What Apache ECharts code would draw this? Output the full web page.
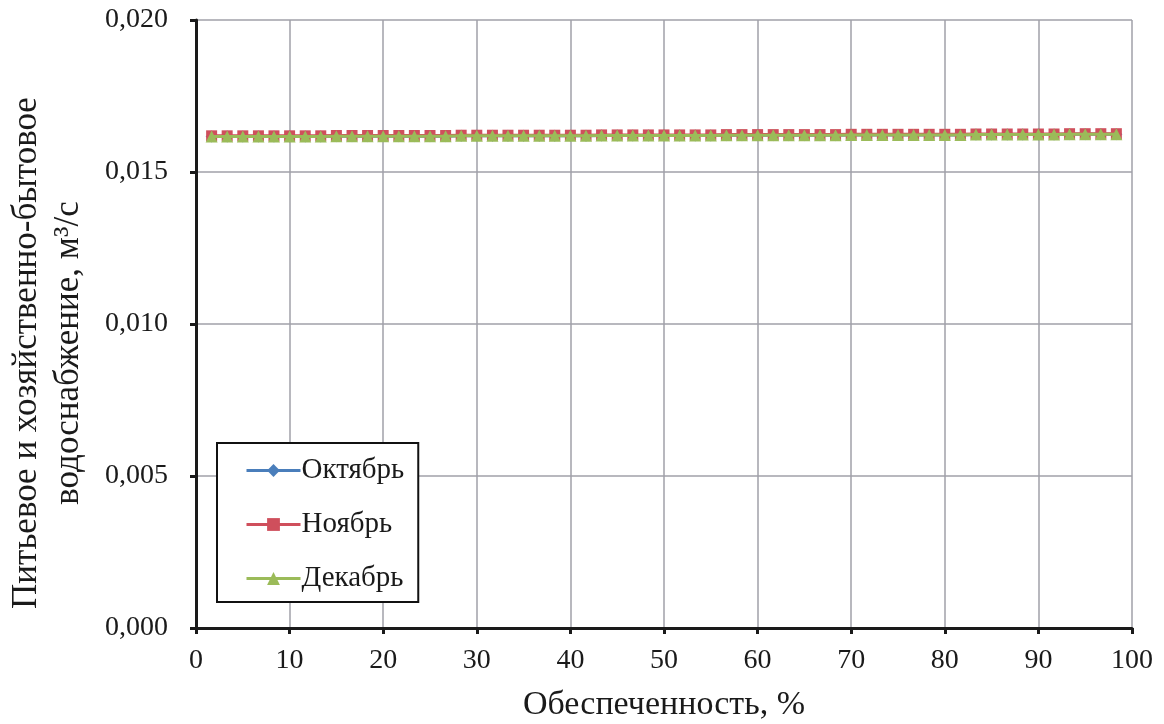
<!DOCTYPE html>
<html>
<head>
<meta charset="utf-8">
<script src="https://cdn.jsdelivr.net/npm/echarts@6/dist/echarts.min.js"></script>
<style>html,body{margin:0;padding:0;background:#fff}#c{width:1164px;height:724px}</style>
</head>
<body>
<div id="c"></div>
<script>
// Exceedance probability, %
const probability = [1.67, 3.33, 5.00, 6.67, 8.33, 10.00, 11.67, 13.33, 15.00, 16.67,
  18.33, 20.00, 21.67, 23.33, 25.00, 26.67, 28.33, 30.00, 31.67, 33.33,
  35.00, 36.67, 38.33, 40.00, 41.67, 43.33, 45.00, 46.67, 48.33, 50.00,
  51.67, 53.33, 55.00, 56.67, 58.33, 60.00, 61.67, 63.33, 65.00, 66.67,
  68.33, 70.00, 71.67, 73.33, 75.00, 76.67, 78.33, 80.00, 81.67, 83.33,
  85.00, 86.67, 88.33, 90.00, 91.67, 93.33, 95.00, 96.67, 98.33];

const october = [0.01617, 0.01617, 0.01617, 0.01617, 0.01617, 0.01617, 0.01617, 0.01617, 0.01618, 0.01618,
  0.01618, 0.01618, 0.01618, 0.01618, 0.01618, 0.01618, 0.01619, 0.01619, 0.01619, 0.01619,
  0.01619, 0.01619, 0.01619, 0.01619, 0.01619, 0.01620, 0.01620, 0.01620, 0.01620, 0.01620,
  0.01620, 0.01620, 0.01620, 0.01621, 0.01621, 0.01621, 0.01621, 0.01621, 0.01621, 0.01621,
  0.01621, 0.01622, 0.01622, 0.01622, 0.01622, 0.01622, 0.01622, 0.01622, 0.01622, 0.01623,
  0.01623, 0.01623, 0.01623, 0.01623, 0.01623, 0.01624, 0.01624, 0.01624, 0.01624];

const november = [0.01619, 0.01619, 0.01619, 0.01619, 0.01619, 0.01619, 0.01619, 0.01619, 0.01620, 0.01620,
  0.01620, 0.01620, 0.01620, 0.01620, 0.01620, 0.01620, 0.01621, 0.01621, 0.01621, 0.01621,
  0.01621, 0.01621, 0.01621, 0.01621, 0.01621, 0.01622, 0.01622, 0.01622, 0.01622, 0.01622,
  0.01622, 0.01622, 0.01622, 0.01623, 0.01623, 0.01623, 0.01623, 0.01623, 0.01623, 0.01623,
  0.01623, 0.01624, 0.01624, 0.01624, 0.01624, 0.01624, 0.01624, 0.01624, 0.01624, 0.01625,
  0.01625, 0.01625, 0.01625, 0.01625, 0.01625, 0.01626, 0.01626, 0.01626, 0.01626];

const december = [0.01617, 0.01617, 0.01617, 0.01617, 0.01617, 0.01617, 0.01617, 0.01617, 0.01618, 0.01618,
  0.01618, 0.01618, 0.01618, 0.01618, 0.01618, 0.01618, 0.01619, 0.01619, 0.01619, 0.01619,
  0.01619, 0.01619, 0.01619, 0.01619, 0.01619, 0.01620, 0.01620, 0.01620, 0.01620, 0.01620,
  0.01620, 0.01620, 0.01620, 0.01621, 0.01621, 0.01621, 0.01621, 0.01621, 0.01621, 0.01621,
  0.01621, 0.01622, 0.01622, 0.01622, 0.01622, 0.01622, 0.01622, 0.01622, 0.01622, 0.01623,
  0.01623, 0.01623, 0.01623, 0.01623, 0.01623, 0.01624, 0.01624, 0.01624, 0.01624];

const seriesNames = ['Октябрь', 'Ноябрь', 'Декабрь'];
const xTitle = 'Обеспеченность, %';
const yTitle = 'Питьевое и хозяйственно-бытовое\nводоснабжение, м³/с';

const FONT = '"Liberation Serif", "Times New Roman", serif';
const pairs = ys => probability.map((x, i) => [x, ys[i]]);

const chart = echarts.init(document.getElementById('c'), null, {renderer: 'canvas'});
chart.setOption({
  animation: false,
  backgroundColor: '#ffffff',
  textStyle: {fontFamily: FONT, color: '#1a1a1a'},
  grid: {left: 196, right: 32, top: 20, bottom: 96, containLabel: false, outerBoundsMode: 'none'},
  legend: {
    orient: 'vertical',
    left: 217, top: 443,
    padding: [12, 14, 8, 28],
    backgroundColor: '#ffffff',
    borderColor: '#111',
    borderWidth: 2,
    borderRadius: 0,
    itemWidth: 54,
    itemHeight: 16,
    itemGap: 23,
    lineStyle: {width: 3},
    textStyle: {fontFamily: FONT, fontSize: 29, lineHeight: 31, color: '#1a1a1a', padding: [0, 0, 0, -4]},
    data: seriesNames
  },
  xAxis: {
    type: 'value', min: 0, max: 100, interval: 10,
    name: xTitle, nameLocation: 'middle', nameGap: 60,
    nameTextStyle: {fontFamily: FONT, fontSize: 34, color: '#1a1a1a'},
    axisLine: {show: true, onZero: false, lineStyle: {color: '#1a1a1a', width: 3}},
    axisTick: {show: true, length: 6, lineStyle: {color: '#1a1a1a', width: 3}},
    axisLabel: {fontFamily: FONT, fontSize: 28, color: '#1a1a1a', margin: 19},
    splitLine: {show: true, lineStyle: {color: '#a0a0a8', width: 1.5}}
  },
  yAxis: {
    type: 'value', min: 0, max: 0.02, interval: 0.005,
    name: yTitle, nameLocation: 'middle', nameGap: 106, nameRotate: 90,
    nameTextStyle: {fontFamily: FONT, fontSize: 35, lineHeight: 42, color: '#1a1a1a', align: 'center',
      padding: [0, 58, 0, 0]},
    axisLine: {show: true, lineStyle: {color: '#1a1a1a', width: 3}},
    axisTick: {show: true, length: 6, lineStyle: {color: '#1a1a1a', width: 3}},
    axisLabel: {fontFamily: FONT, fontSize: 28, color: '#1a1a1a', margin: 28,
      formatter: v => v.toFixed(3).replace('.', ',')},
    splitLine: {show: true, lineStyle: {color: '#a0a0a8', width: 1.5}}
  },
  series: [
    {name: seriesNames[0], type: 'line', data: pairs(october), symbol: 'diamond', symbolSize: 12,
      color: '#4a7ebb', lineStyle: {width: 3}, z: 2},
    {name: seriesNames[1], type: 'line', data: pairs(november), symbol: 'rect', symbolSize: 11,
      color: '#cf4f5c', lineStyle: {width: 3}, z: 3},
    {name: seriesNames[2], type: 'line', data: pairs(december), symbol: 'triangle', symbolSize: 12,
      color: '#9bbb59', lineStyle: {width: 3}, z: 4}
  ]
});
</script>
</body>
</html>
